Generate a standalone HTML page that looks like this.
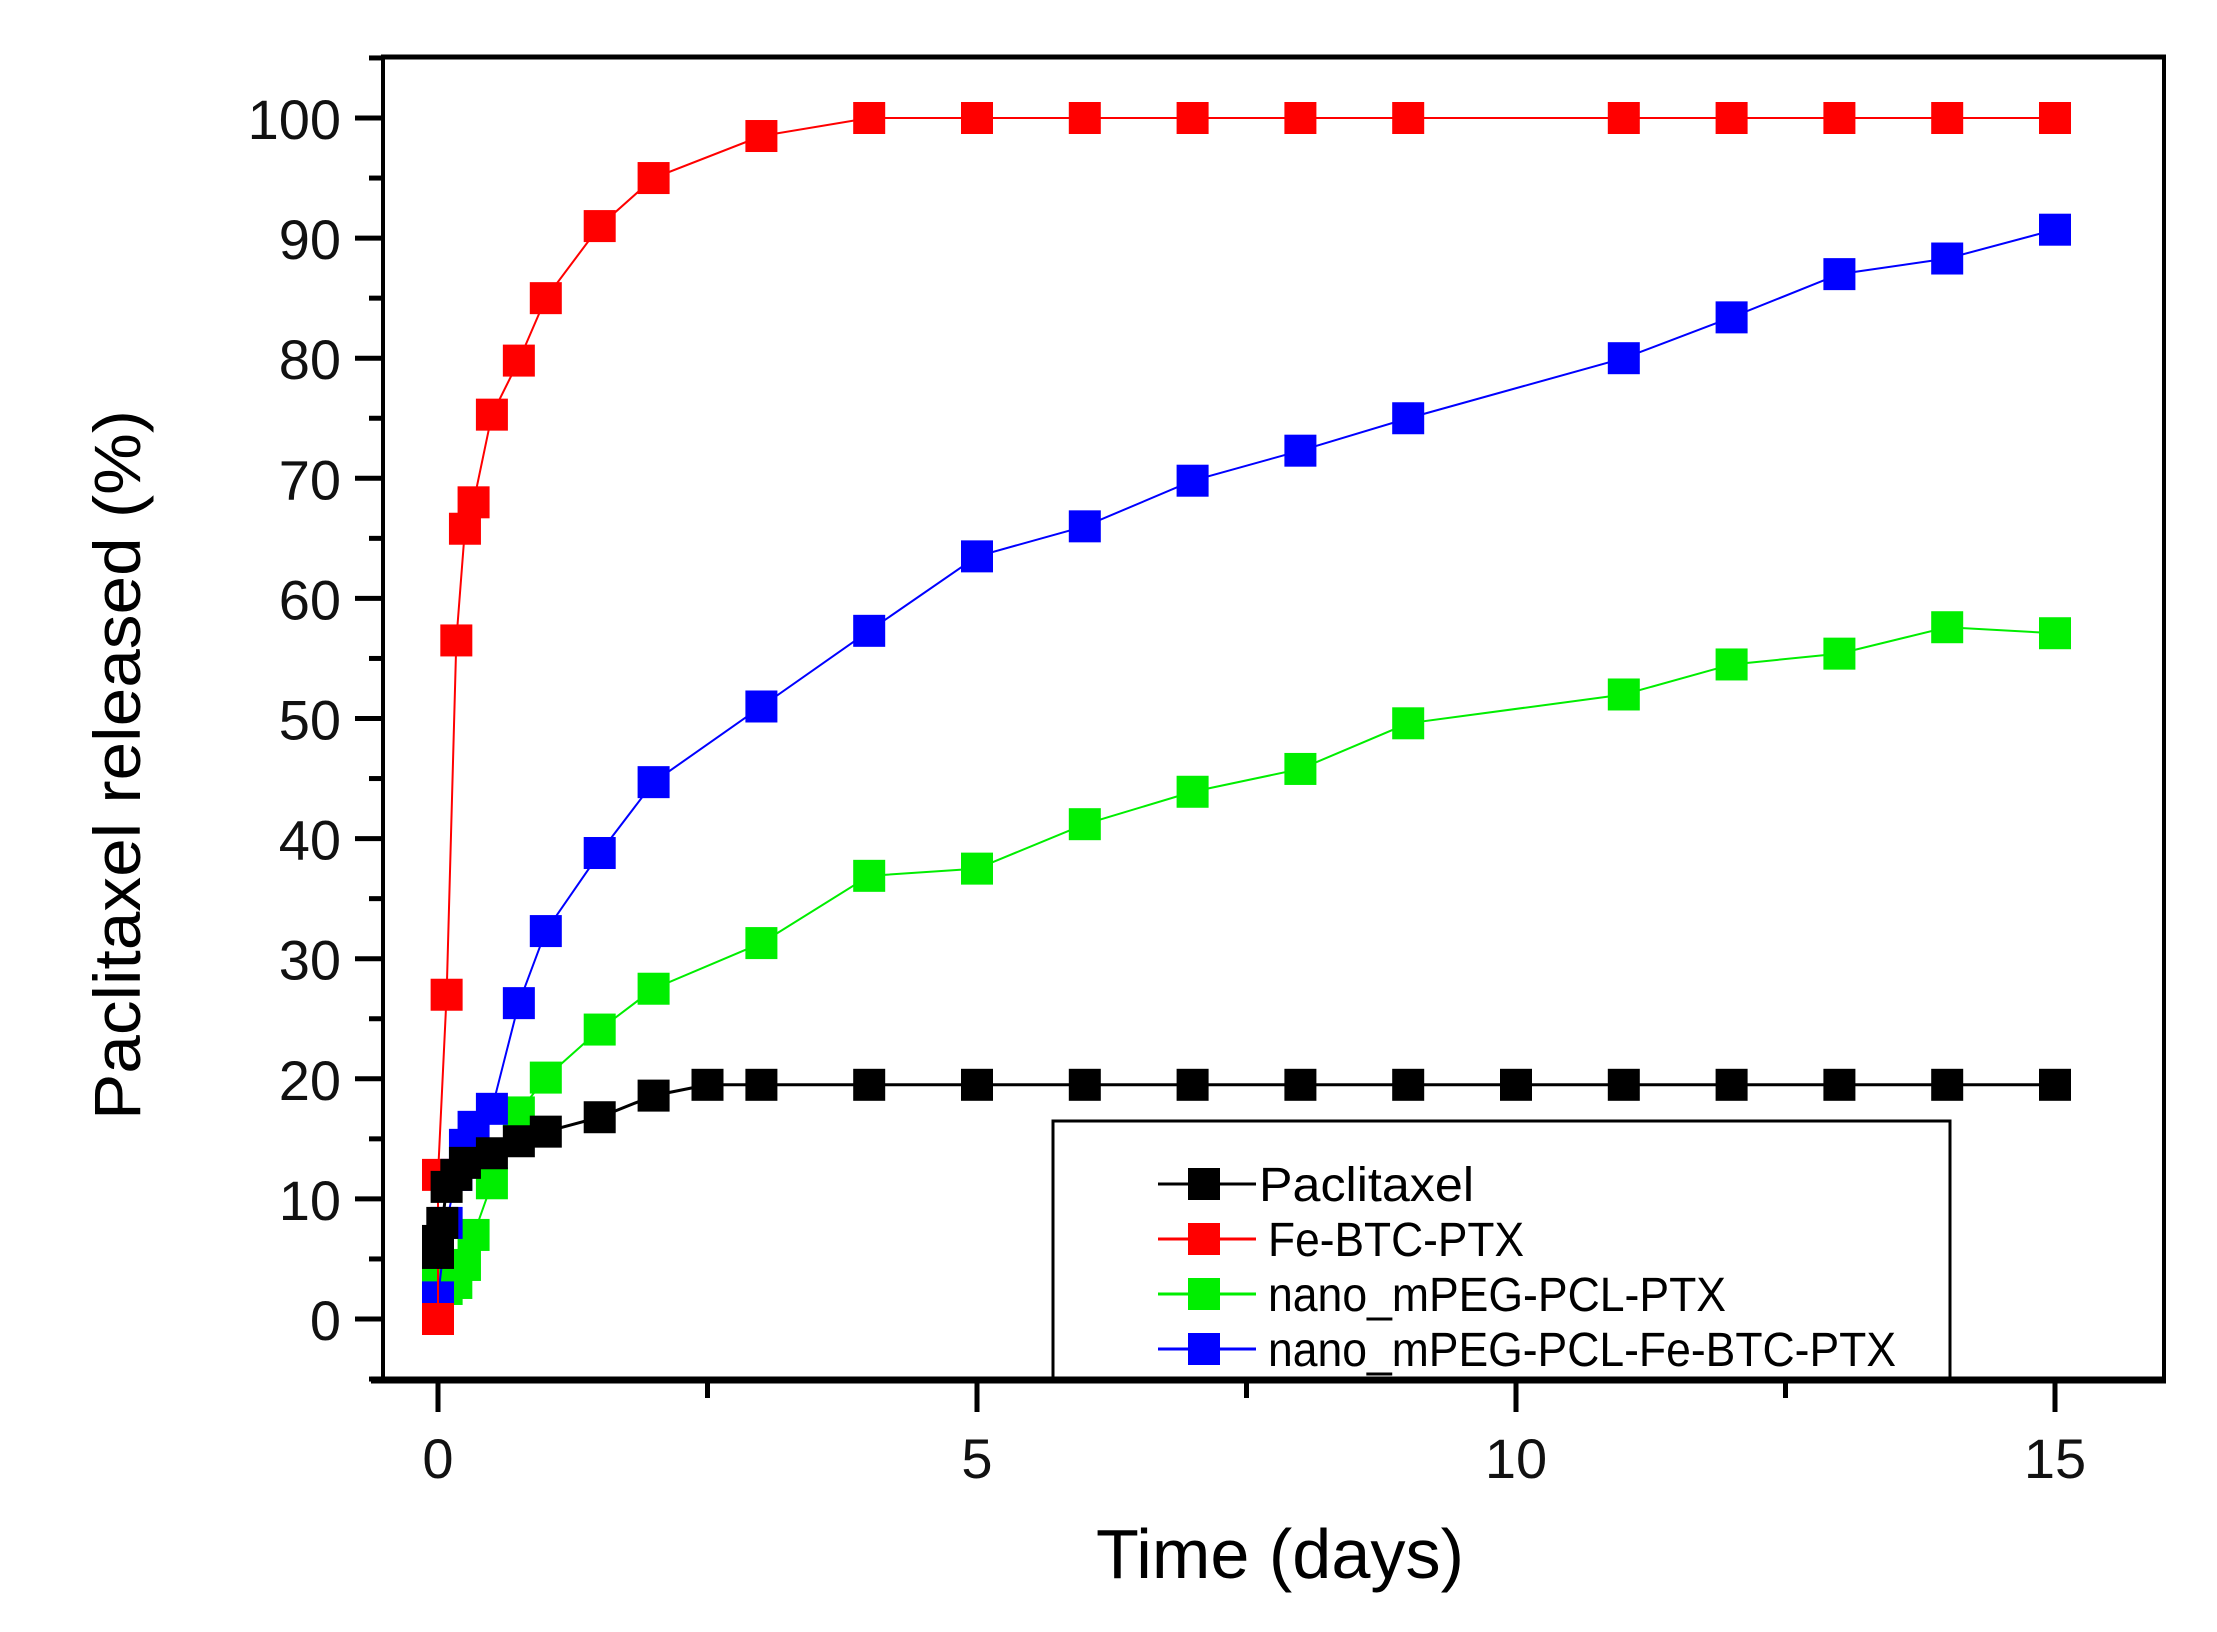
<!DOCTYPE html>
<html><head><meta charset="utf-8"><style>
html,body{margin:0;padding:0;background:#fff;}
svg{display:block;}
text{font-family:"Liberation Sans",Arial,sans-serif;}
</style></head><body>
<svg id="s" xmlns="http://www.w3.org/2000/svg" width="2217" height="1632" viewBox="0 0 2217 1632">
<rect width="2217" height="1632" fill="#fff"/>
<g id="g"></g>
</svg>
<script>
const X0=438,DX=107.8,Y0=1319,DY=12.01;
const px=d=>X0+d*DX, py=v=>Y0-v*DY;
let h='';
h+='<line x1="381" y1="57" x2="2166" y2="57" stroke="#000" stroke-width="5"/>';
h+='<line x1="383" y1="57" x2="383" y2="1380" stroke="#000" stroke-width="4"/>';
h+='<line x1="2164" y1="55" x2="2164" y2="1382" stroke="#000" stroke-width="4"/>';
h+='<line x1="371" y1="1380" x2="2166" y2="1380" stroke="#000" stroke-width="7"/>';
for(let v=-5;v<=105;v+=5){const y=py(v);const maj=v%10==0;
 h+=`<line x1="${maj?355:369}" y1="${y}" x2="383" y2="${y}" stroke="#000" stroke-width="5"/>`;
 if(maj&&v>=0&&v<=100)h+=`<text x="341" y="${y+21}" font-size="56" text-anchor="end" fill="#111">${v}</text>`;}
for(let d=0;d<=15;d+=2.5){const x=px(d);const maj=d%5==0;
 h+=`<line x1="${x}" y1="1380" x2="${x}" y2="${maj?1412:1398}" stroke="#000" stroke-width="5"/>`;
 if(maj)h+=`<text x="${x}" y="1478" font-size="56" text-anchor="middle" fill="#111">${d}</text>`;}
h+=`<text x="1280" y="1578" font-size="70" text-anchor="middle" textLength="368" lengthAdjust="spacingAndGlyphs">Time (days)</text>`;
h+=`<text transform="translate(140,765) rotate(-90)" font-size="66" text-anchor="middle" textLength="710" lengthAdjust="spacingAndGlyphs">Paclitaxel released (%)</text>`;
const series=[
['#000',3,[[0,5.5],[0,6.5],[0.04,8],[0.08,11],[0.17,12],[0.25,13],[0.5,13.8],[0.75,14.8],[1,15.6],[1.5,16.8],[2,18.6],[2.5,19.5],[3,19.5],[4,19.5],[5,19.5],[6,19.5],[7,19.5],[8,19.5],[9,19.5],[10,19.5],[11,19.5],[12,19.5],[13,19.5],[14,19.5],[15,19.5]]],
['#00ee00',2,[[0,3],[0.08,2.5],[0.17,3],[0.25,4.5],[0.33,7],[0.5,11.3],[0.75,17.2],[1,20.1],[1.5,24.1],[2,27.5],[3,31.3],[4,36.9],[5,37.5],[6,41.2],[7,43.9],[8,45.8],[9,49.6],[11,52],[12,54.5],[13,55.4],[14,57.6],[15,57.1]]],
['#0000ff',2,[[0,1.8],[0.08,8],[0.17,12],[0.25,14.5],[0.33,16],[0.5,17.5],[0.75,26.3],[1,32.3],[1.5,38.8],[2,44.7],[3,51],[4,57.3],[5,63.5],[6,66],[7,69.8],[8,72.3],[9,75],[11,80],[12,83.4],[13,87],[14,88.3],[15,90.7]]],
['#ff0000',2,[[0,0],[0,12],[0.08,27],[0.17,56.5],[0.25,65.8],[0.33,68],[0.5,75.3],[0.75,79.8],[1,85],[1.5,91],[2,95],[3,98.5],[4,100],[5,100],[6,100],[7,100],[8,100],[9,100],[11,100],[12,100],[13,100],[14,100],[15,100]]]
];
for(const i of [1,2,3,0]){const [c,w,p]=series[i];
 h+=`<polyline fill="none" stroke="${c}" stroke-width="${w}" points="${p.map(q=>px(q[0])+','+py(q[1])).join(' ')}"/>`;
 for(const q of p)h+=`<rect x="${px(q[0])-16}" y="${py(q[1])-16}" width="32" height="32" fill="${c}"/>`;}
h+='<rect x="1053" y="1121" width="897" height="257" fill="#fff" stroke="#000" stroke-width="3"/>';
const leg=[['#000','Paclitaxel',1184,1259,215],['#ff0000','Fe-BTC-PTX',1239,1268,256],['#00ee00','nano_mPEG-PCL-PTX',1294,1268,458],['#0000ff','nano_mPEG-PCL-Fe-BTC-PTX',1349,1268,628]];
for(const [c,t,y,tx,tl] of leg){
 h+=`<line x1="1158" y1="${y}" x2="1256" y2="${y}" stroke="${c}" stroke-width="3"/>`;
 h+=`<rect x="1188" y="${y-16}" width="32" height="32" fill="${c}"/>`;
 h+=`<text x="${tx}" y="${y+17}" font-size="48" textLength="${tl}" lengthAdjust="spacingAndGlyphs">${t}</text>`;}
document.getElementById('g').innerHTML=h;
</script>
</body></html>
